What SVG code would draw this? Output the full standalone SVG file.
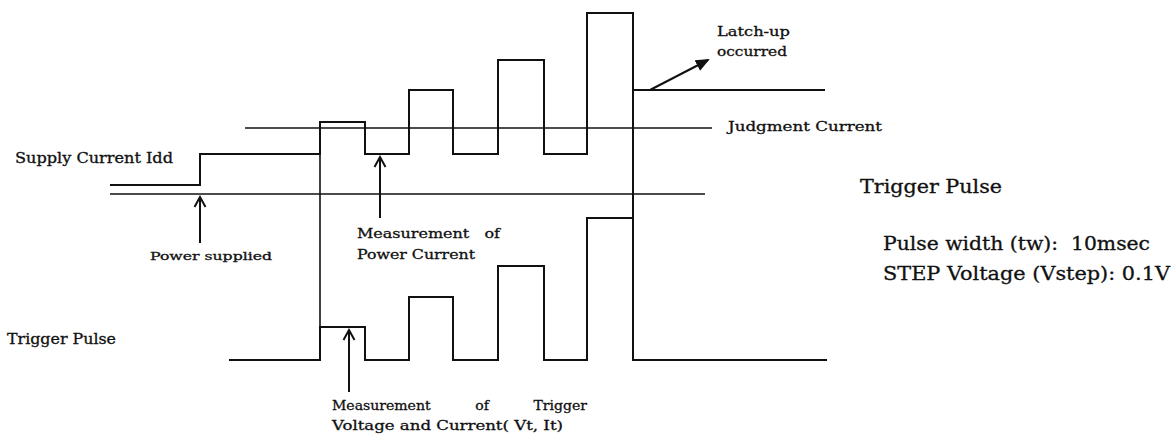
<svg xmlns="http://www.w3.org/2000/svg" width="1175" height="436" viewBox="0 0 1175 436">
<style>
.w{fill:none;stroke:#111;stroke-width:2;stroke-linejoin:miter}
.l{fill:none;stroke:#111;stroke-width:1.6}
.a{fill:none;stroke:#111;stroke-width:2}
text{font-family:"DejaVu Serif","Liberation Serif",serif;fill:#111;stroke:#111;stroke-width:0.3;white-space:pre}
.s{font-size:14px}
.m{font-size:12.5px}
.xs{font-size:11px}
.b{font-size:18px}
</style>
<defs>
<marker id="open" markerWidth="14" markerHeight="14" refX="12" refY="7" orient="auto" markerUnits="userSpaceOnUse" viewBox="0 0 14 14">
<path d="M2,1.5 L12,7 L2,12.5" fill="none" stroke="#111" stroke-width="2"/>
</marker>
<marker id="fill" markerWidth="14" markerHeight="14" refX="12" refY="7" orient="auto" markerUnits="userSpaceOnUse" viewBox="0 0 14 14">
<path d="M0,1 L14,7 L0,13 Z" fill="#111"/>
</marker>
</defs>
<rect width="1175" height="436" fill="#fff"/>
<g id="connectors">
<path id="supply-wave" class="w" d="M110,185 H200 V154 H320 V122 H365 V154 H409 V90 H453 V154 H498 V60 H544 V154 H587 V13 H633 V90 H825"/>
<path id="trigger-wave" class="w" d="M229,360 H320 V327 H365 V360 H409 V297 H453 V360 H498 V266 H544 V360 H587 V218 H633 V360 H827"/>
<line class="l" x1="110" y1="194" x2="705" y2="194"/>
<line class="l" x1="245" y1="128" x2="712" y2="128"/>
<line class="l" x1="320" y1="154" x2="320" y2="327"/>
<line class="w" x1="633" y1="90" x2="633" y2="218"/>
<line class="a" x1="200" y1="243" x2="200" y2="197" marker-end="url(#open)"/>
<line class="a" x1="380" y1="218" x2="380" y2="157" marker-end="url(#open)"/>
<line class="a" x1="349" y1="392" x2="349" y2="330" marker-end="url(#open)"/>
<line class="a" x1="650" y1="90" x2="708" y2="60" marker-end="url(#fill)"/>
</g>
<g id="label-supply"><text class="s" x="15" y="163" textLength="158" lengthAdjust="spacingAndGlyphs">Supply Current Idd</text></g>
<g id="label-power-supplied"><text class="xs" x="150" y="260" textLength="122" lengthAdjust="spacingAndGlyphs">Power supplied</text></g>
<g id="label-trigger-left"><text class="s" x="7" y="344" textLength="109" lengthAdjust="spacingAndGlyphs">Trigger Pulse</text></g>
<g id="label-meas-power">
<text class="m" x="357" y="238" textLength="143" lengthAdjust="spacingAndGlyphs">Measurement   of</text>
<text class="m" x="357" y="259" textLength="118" lengthAdjust="spacingAndGlyphs">Power Current</text>
</g>
<g id="label-meas-trigger">
<text class="m" x="332" y="410" textLength="255" lengthAdjust="spacingAndGlyphs">Measurement          of          Trigger</text>
<text class="m" x="332" y="430" textLength="231" lengthAdjust="spacingAndGlyphs">Voltage and Current( Vt, It)</text>
</g>
<g id="label-latchup">
<text class="m" x="717" y="36" textLength="73" lengthAdjust="spacingAndGlyphs">Latch-up</text>
<text class="m" x="717" y="56" textLength="70" lengthAdjust="spacingAndGlyphs">occurred</text>
</g>
<g id="label-judgment"><text class="m" x="728" y="131" textLength="154" lengthAdjust="spacingAndGlyphs">Judgment Current</text></g>
<g id="label-trigger-right">
<text class="b" x="860" y="193" textLength="142" lengthAdjust="spacingAndGlyphs">Trigger Pulse</text>
<text class="b" x="883" y="250" textLength="267" lengthAdjust="spacingAndGlyphs">Pulse width (tw):  10msec</text>
<text class="b" x="883" y="280" textLength="287" lengthAdjust="spacingAndGlyphs">STEP Voltage (Vstep): 0.1V</text>
</g>
</svg>
